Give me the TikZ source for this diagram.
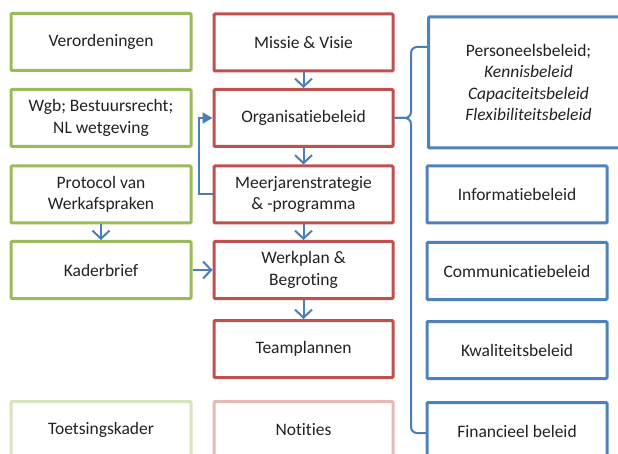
\documentclass[tikz,border=0pt]{standalone}
\usepackage{fontspec}
\setmainfont{Carlito}[Ligatures=NoCommon]
\usetikzlibrary{arrows.meta}
\definecolor{gbox}{HTML}{9BBB59}
\definecolor{rbox}{HTML}{C0504D}
\definecolor{bbox}{HTML}{4F81BD}
\definecolor{lgbox}{HTML}{D7E4BD}
\definecolor{lrbox}{HTML}{E6B9B8}
\definecolor{conncol}{HTML}{4A7EBB}
\definecolor{txt}{HTML}{222222}
\begin{document}
\begin{tikzpicture}[x=1pt,y=-1pt,
  box/.style={draw, line width=3pt, rounded corners=1pt, fill=white, align=center,
    text=txt, font=\fontsize{17.5}{21.5}\selectfont, inner sep=0pt},
  gb/.style={box, draw=gbox, minimum width=180pt, minimum height=57pt},
  rb/.style={box, draw=rbox, minimum width=179pt, minimum height=57pt},
  bb/.style={box, draw=bbox, minimum width=180pt, minimum height=57pt},
  conn/.style={draw=conncol, line width=2pt},
  arr/.style={conn, -{Straight Barb[length=8pt,width=17pt,line width=2pt]}}
]
\useasboundingbox (0,0) rectangle (618,454);
% green column
\node[gb] (ver) at (101,42) {Verordeningen};
\node[gb] (wgb) at (101,118) {Wgb; Bestuursrecht;\\NL wetgeving};
\node[gb] (pro) at (101,194.5) {Protocol van\\Werkafspraken};
\node[gb] (kad) at (101,270) {Kaderbrief};
\node[gb, draw=lgbox] (toe) at (101,430) {Toetsingskader};
% red column
\node[rb] (mis) at (303.5,42.5) {Missie \& Visie};
\node[rb] (org) at (303.5,118) {Organisatiebeleid};
\node[rb] (mee) at (303.5,194.5) {Meerjarenstrategie\\\& -programma};
\node[rb] (wer) at (303.5,270) {Werkplan \&\\Begroting};
\node[rb] (tea) at (303.5,349) {Teamplannen};
\node[rb, draw=lrbox] (not) at (303.5,430) {Notities};
% blue column
\node[bb, minimum width=200pt, minimum height=131pt, text width=200pt, anchor=west] (per) at (427,82.5)
  {Personeelsbeleid;\\\itshape Kennisbeleid\\\itshape Capaciteitsbeleid\\\itshape Flexibiliteitsbeleid};
\node[bb] (inf) at (517,194.5) {Informatiebeleid};
\node[bb] (com) at (517,271) {Communicatiebeleid};
\node[bb] (kwa) at (517,350) {Kwaliteitsbeleid};
\node[bb] (fin) at (517,431) {Financieel beleid};
% arrows
\draw[arr] (mis) -- (org);
\draw[arr] (org) -- (mee);
\draw[arr] (mee) -- (wer);
\draw[arr] (wer) -- (tea);
\draw[arr] (pro) -- (kad);
\draw[arr] (kad) -- (wer);
\draw[conn, -{Triangle[length=10pt,width=11pt]}] (mee.west) -- ++(-14,0) |- (org.west);
% brace
\coordinate (bt) at (427,47);
\coordinate (bb) at (427,433);
\coordinate (bx) at (411,118);
\draw[conn, rounded corners=6pt] (bt) -| (bx) -- (org.east);
\draw[conn, rounded corners=6pt] (org.east) -- (bx) |- (bb);
\end{tikzpicture}
\end{document}
